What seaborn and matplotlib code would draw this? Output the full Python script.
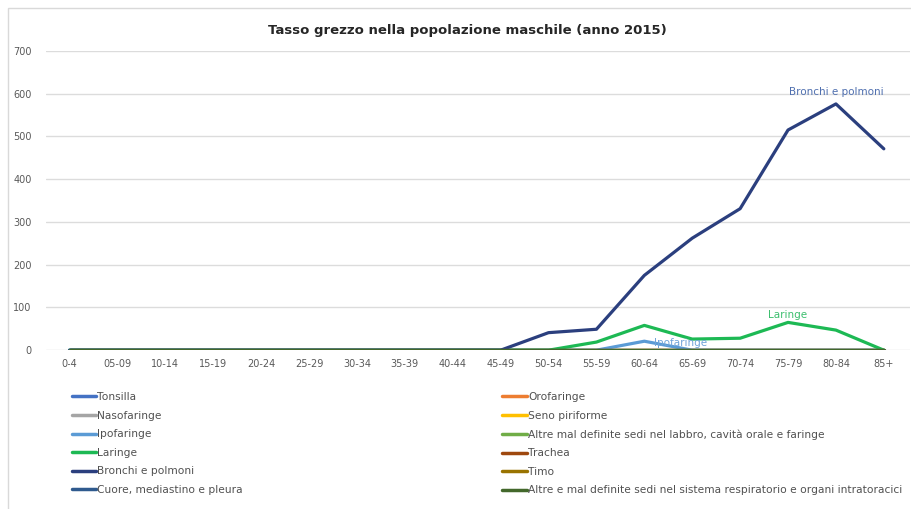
import matplotlib
matplotlib.use("Agg")
import matplotlib.pyplot as plt
from matplotlib.patches import Rectangle
import pandas as pd
import seaborn as sns

# Age groups
ages = ["0-4", "05-09", "10-14", "15-19", "20-24", "25-29", "30-34", "35-39",
        "40-44", "45-49", "50-54", "55-59", "60-64", "65-69", "70-74",
        "75-79", "80-84", "85+"]

# Crude rates per site (male population, 2015)
tonsilla = [0] * 18
orofaringe = [0] * 18
nasofaringe = [0] * 18
seno_piriforme = [0] * 18
ipofaringe = [0, 0, 0, 0, 0, 0, 0, 0, 0, 0, 0, 0, 21, 0, 0, 0, 0, 0]
altre_labbro = [0] * 18
laringe = [0, 0, 0, 0, 0, 0, 0, 0, 0, 0, 0, 19, 58, 26, 28, 65, 47, 0]
trachea = [0] * 18
bronchi = [0, 0, 0, 0, 0, 0, 0, 0, 0, 0, 41, 49, 175, 262, 331, 515, 576, 471]
timo = [0] * 18
cuore = [0] * 18
altre_resp = [0] * 18

series_names = [
    "Tonsilla", "Orofaringe", "Nasofaringe", "Seno piriforme", "Ipofaringe",
    "Altre mal definite sedi nel labbro, cavità orale e faringe", "Laringe",
    "Trachea", "Bronchi e polmoni", "Timo", "Cuore, mediastino e pleura",
    "Altre e mal definite sedi nel sistema respiratorio e organi intratoracici",
]
series_values = [tonsilla, orofaringe, nasofaringe, seno_piriforme, ipofaringe,
                 altre_labbro, laringe, trachea, bronchi, timo, cuore, altre_resp]
series_colors = ["#4472C4", "#ED7D31", "#A5A5A5", "#FFC000", "#5B9BD5",
                 "#70AD47", "#1DB954", "#9E480E", "#2B3F7E", "#997300",
                 "#2F5A8E", "#43682B"]

rows = []
for name, vals in zip(series_names, series_values):
    for a, v in zip(ages, vals):
        rows.append({"Età": a, "Tasso": v, "Sede": name})
df = pd.DataFrame(rows)

sns.set_theme(style="white")
plt.rcParams["font.family"] = ["DejaVu Sans"]

fig = plt.figure(figsize=(9.12, 5.09), dpi=100)
ax = fig.add_axes([0.050, 0.312, 0.948, 0.588])

sns.lineplot(data=df, x="Età", y="Tasso", hue="Sede", hue_order=series_names,
             palette=dict(zip(series_names, series_colors)), sort=False,
             linewidth=2.3, ax=ax, legend=False)

ax.set_ylim(0, 700)
ax.set_xlim(-0.5, len(ages) - 0.45)
ax.set_yticks(range(0, 701, 100))
ax.yaxis.grid(True, color="#dcdcdc", linewidth=1)
ax.set_axisbelow(True)
for s in ax.spines.values():
    s.set_visible(False)
ax.set_xlabel("")
ax.set_ylabel("")
ax.tick_params(axis="both", colors="#595959", labelsize=7, length=0)
ax.tick_params(axis="y", pad=10)
ax.tick_params(axis="x", pad=6)

# Data labels
i80 = ages.index("80-84")
ax.annotate("Bronchi e polmoni", (i80, bronchi[i80]), xytext=(0, 5),
            textcoords="offset points", ha="center", va="bottom",
            fontsize=7.5, color="#4F6FAF")
i75 = ages.index("75-79")
ax.annotate("Laringe", (i75, laringe[i75]), xytext=(0, 2),
            textcoords="offset points", ha="center", va="bottom",
            fontsize=7.5, color="#3CBF6E")
i60 = ages.index("60-64")
ax.annotate("Ipofaringe", (i60, ipofaringe[i60]), xytext=(7, -1),
            textcoords="offset points", ha="left", va="center",
            fontsize=7.5, color="#6FA3D8")

# Two-column legend below the plot
handles = {name: plt.Line2D([], [], color=c, linewidth=2.5)
           for name, c in zip(series_names, series_colors)}
left_col = series_names[0::2]
right_col = series_names[1::2]
leg_kw = dict(frameon=False, fontsize=7.7, handlelength=2.3, handletextpad=0.1,
              labelspacing=0.8, borderaxespad=0, labelcolor="#505050")
leg1 = fig.legend([handles[n] for n in left_col], left_col,
                  loc="upper left", bbox_to_anchor=(0.074, 0.238), **leg_kw)
leg2 = fig.legend([handles[n] for n in right_col], right_col,
                  loc="upper left", bbox_to_anchor=(0.546, 0.238), **leg_kw)

fig.text(0.512, 0.94, "Tasso grezzo nella popolazione maschile (anno 2015)",
         ha="center", va="center", fontsize=9.5, fontweight="bold",
         color="#262626")

# Chart frame (left and top edges visible)
fig.patches.append(Rectangle((0.009, -0.02), 1.1, 1.004, transform=fig.transFigure,
                             fill=False, edgecolor="#d9d9d9", linewidth=1))

fig.savefig("out.png", dpi=100, facecolor="white")
